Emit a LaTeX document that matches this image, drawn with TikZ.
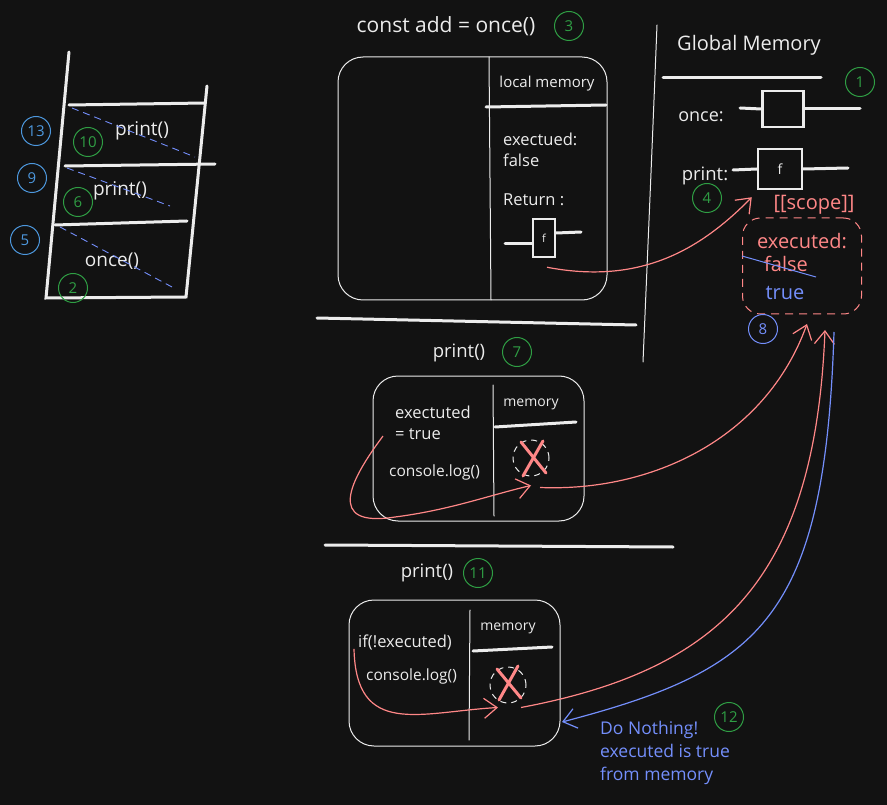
\documentclass[tikz,border=0pt]{standalone}
\usepackage{fontspec}
\setmainfont{Open Sans}
\usetikzlibrary{arrows.meta, positioning, calc}
\definecolor{bgDark}{RGB}{18, 18, 18}
\definecolor{chalkWhite}{RGB}{236, 236, 236}
\definecolor{markGreen}{RGB}{47, 158, 68}
\definecolor{markBlue}{RGB}{77, 152, 222}
\definecolor{markViolet}{RGB}{116, 143, 252}
\definecolor{markRed}{RGB}{255, 135, 135}

\begin{document}
\begin{tikzpicture}[
    x=1pt, y=-1pt,
    chalk/.style={
        draw=chalkWhite,
        line width=1pt,
        line cap=round
    },
    boldline/.style={
        draw=chalkWhite,
        line width=3pt,
        line cap=round
    },
    label/.style={
        text=chalkWhite,
        font=\fontsize{16.5}{21}\selectfont,
        inner sep=1pt,
        align=left
    },
    smalllabel/.style={
        label,
        font=\fontsize{14}{17}\selectfont
    },
    stacklabel/.style={
        label,
        font=\fontsize{19}{22}\selectfont
    },
    title/.style={
        label,
        font=\fontsize{20}{24}\selectfont
    },
    numgreen/.style={
        circle,
        draw=markGreen,
        text=markGreen,
        line width=1pt,
        minimum size=29pt,
        inner sep=0pt,
        font=\fontsize{15}{16}\selectfont
    },
    numblue/.style={
        numgreen,
        draw=markBlue,
        text=markBlue
    },
    numviolet/.style={
        numgreen,
        draw=markViolet,
        text=markViolet
    },
    frame/.style={
        draw=chalkWhite,
        line width=1pt,
        rounded corners=25pt
    },
    fbox/.style={
        draw=chalkWhite,
        line width=2.5pt,
        inner sep=0pt,
        text=chalkWhite,
        font=\fontsize{11}{12}\selectfont
    },
    strike/.style={
        draw=markViolet,
        dashed,
        dash pattern=on 7pt off 5pt,
        line width=0.9pt
    },
    gone/.style={
        circle,
        draw=chalkWhite,
        dashed,
        dash pattern=on 6pt off 5pt,
        line width=1pt,
        minimum size=36pt
    },
    cross/.style={
        draw=markRed,
        line width=3pt,
        line cap=round
    },
    redarrow/.style={
        draw=markRed,
        line width=1.2pt,
        -{Straight Barb[length=13pt, width=20pt, line width=1.2pt]}
    },
    bluearrow/.style={
        redarrow,
        draw=markViolet
    }
]

% Canvas
\useasboundingbox (0,0) rectangle (887,805);
\fill[bgDark] (0,0) rectangle (887,805);

% Call stack
\draw[boldline] (69,52) -- (46,298) -- (186,297) -- (207,86);
\draw[boldline] (69,105) -- (205,103);
\draw[boldline] (65,166) -- (215,164);
\draw[boldline] (55,225) -- (187,221);
\node[stacklabel] (stacktop) at (142,131) {print()};
\node[stacklabel] (stackmid) at (120,191) {print()};
\node[stacklabel] (stackbot) at (112,261) {once()};
\draw[strike] (72,108) -- (195,157);
\draw[strike] (67,168) -- (170,206);
\draw[strike] (60,227) -- (172,287);
\node[numgreen] (n10) at (88,142) {10};
\node[numgreen] (n6) at (78,202) {6};
\node[numgreen] (n2) at (73,288) {2};
\node[numblue] (n13) at (36,131) {13};
\node[numblue] (n9) at (32,178) {9};
\node[numblue] (n5) at (25,240) {5};

% const add = once()
\node[title, font=\fontsize{21}{24}\selectfont] (addcall) at (446,26) {const add = once()};
\node[numgreen] (n3) at (569,26) {3};
\draw[frame] (338,57) rectangle (607,300);
\draw[chalk] (489,57) -- (491,300);
\node[label, font=\fontsize{15}{18}\selectfont] (localmem) at (547,84) {local memory};
\draw[boldline] (486,107) -- (606,105);
\node[label, anchor=west] (execfalse) at (502,150) {exectued:\\false};
\node[label, anchor=west] (retlbl) at (502,200) {Return :};
\node[fbox, minimum width=22pt, minimum height=38pt] (retf) at (544,238) {f};
\draw[boldline] (505,244) -- (retf.west |- 0,244);
\draw[boldline] (retf.east |- 0,233) -- (581,232);
\draw[boldline] (317,318) -- (636,325);

% Global memory
\draw[chalk] (657,25) .. controls (652,150) .. (643,362);
\node[title] (gmem) at (749,45) {Global Memory};
\draw[boldline] (663,78) -- (821,78);
\node[numgreen] (n1) at (860,82) {1};
\node[label, font=\fontsize{18}{20}\selectfont] (oncelbl) at (701,117) {once:};
\node[fbox, minimum width=41pt, minimum height=36pt] (oncef) at (783,109) {};
\draw[boldline] (740,108) -- (oncef.west);
\draw[boldline] (oncef.east) -- (860,109);
\node[label, font=\fontsize{18.5}{20}\selectfont] (printlbl) at (705,176) {print:};
\node[fbox, minimum width=44pt, minimum height=40pt, font=\fontsize{14}{15}\selectfont] (printf) at (780,169) {f};
\draw[boldline] (733,170) -- (printf.west);
\draw[boldline] (printf.east) -- (848,168);
\node[numgreen] (n4) at (707,198) {4};

% [[scope]]
\node[title, text=markRed] (scopelbl) at (814,205) {[[scope]]};
\node[draw=markRed, dashed, dash pattern=on 8pt off 6pt, line width=1pt,
      rounded corners=18pt, minimum width=119pt, minimum height=96pt] (scope) at (802,266) {};
\node[title, text=markRed] (execlbl) at (802,241) {executed:};
\node[title, text=markRed] (falselbl) at (786,264) {false};
\draw[markViolet, line width=1pt] (742,256) -- (816,277);
\node[title, text=markViolet] (truelbl) at (785,293) {true};
\node[numviolet] (n8) at (763,329) {8};

% print() first call
\node[title, font=\fontsize{18.5}{22}\selectfont] (p7title) at (459,353) {print()};
\node[numgreen] (n7) at (517,352) {7};
\draw[frame] (373,376) rectangle (584,521);
\draw[chalk] (493,385) -- (494,516);
\node[smalllabel] (mem7) at (531,404) {memory};
\draw[boldline] (495,427) -- (576,422);
\node[label, anchor=west] (set7) at (394,423) {exectuted\\= true};
\node[label, anchor=west, font=\fontsize{15.5}{18}\selectfont] (log7) at (388,472) {console.log()};
\node[gone] (gone7) at (531,458) {};
\draw[cross] (521,442) -- (546,473);
\draw[cross] (543,441) -- (523,476);

% print() second call
\node[title, font=\fontsize{18.5}{22}\selectfont] (p11title) at (427,573) {print()};
\node[numgreen] (n11) at (478,573) {11};
\draw[frame] (349,600) rectangle (560,746);
\draw[chalk] (470,610) -- (469,740);
\node[smalllabel] (mem11) at (508,628) {memory};
\draw[boldline] (473,651) -- (552,647);
\node[label, anchor=west] (if11) at (357,642) {if(!executed)};
\node[label, anchor=west, font=\fontsize{15.5}{18}\selectfont] (log11) at (365,676) {console.log()};
\node[gone] (gone11) at (508,685) {};
\draw[cross] (497,669) -- (521,698);
\draw[cross] (518,666) -- (499,700);
\draw[boldline] (325,545) -- (673,547);

% Note
\node[title, font=\fontsize{17.5}{21}\selectfont, text=markViolet, anchor=north west, align=left] (note) at (599,720)
    {Do Nothing!\\[2pt]executed is true\\[2pt]from memory};
\node[numgreen] (n12) at (729,717) {12};

% Arrows
\coordinate (in7) at (807,324);
\coordinate (in11) at (825,330);
\coordinate (out12) at (834,332);
\draw[redarrow] ($(retf.south)+(3,9)$) .. controls (640,285) and (700,250) .. ($(printf.south west)+(-5,7)$);
\draw[redarrow] ($(set7.south west)+(-11,-5)$) .. controls (350,480) and (325,528) .. (395,517)
    .. controls (450,510) and (490,495) .. ($(gone7.south)+(0,9)$);
\draw[redarrow] ($(gone7.south)+(9,11)$) .. controls (650,492) and (765,440) .. (in7);
\draw[redarrow] ($(if11.south west)+(-3,-2)$) .. controls (356,738) and (420,712) .. ($(gone11.south)+(-10,4)$);
\draw[redarrow] ($(gone11.south)+(13,4)$) .. controls (720,670) and (815,580) .. (in11);
\draw[bluearrow] (out12) .. controls (825,620) and (760,670) .. (562,722);

\end{tikzpicture}
\end{document}
